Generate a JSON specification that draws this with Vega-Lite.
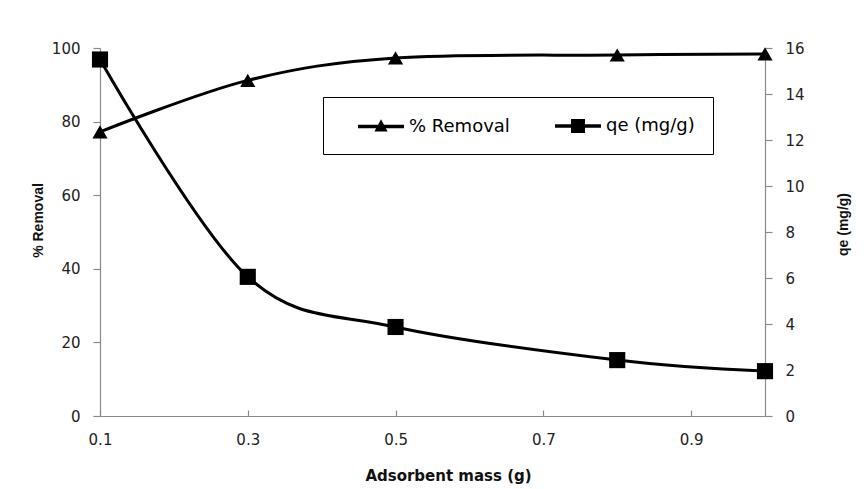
{
  "$schema": "https://vega.github.io/schema/vega-lite/v6.json",
  "width": 665,
  "height": 368,
  "autosize": {"type": "none"},
  "padding": {"left": 100, "top": 48, "right": 100, "bottom": 73},
  "background": "white",
  "config": {
    "view": {"stroke": null},
    "axis": {
      "grid": false,
      "domainColor": "#8a8a8a",
      "tickColor": "#8a8a8a",
      "domainWidth": 1.2,
      "tickWidth": 1.2,
      "tickSize": 7,
      "labelColor": "#222222",
      "labelFont": "DejaVu Sans",
      "labelFontSize": 15,
      "titleColor": "#111111",
      "titleFontWeight": "bold"
    }
  },
  "data": {
    "values": [
      {"mass": 0.1, "series": "% Removal", "value": 77.2},
      {"mass": 0.3, "series": "% Removal", "value": 91.2},
      {"mass": 0.5, "series": "% Removal", "value": 97.3},
      {"mass": 0.8, "series": "% Removal", "value": 98.1},
      {"mass": 1.0, "series": "% Removal", "value": 98.4},
      {"mass": 0.1, "series": "qe (mg/g)", "value": 15.5},
      {"mass": 0.3, "series": "qe (mg/g)", "value": 6.05},
      {"mass": 0.5, "series": "qe (mg/g)", "value": 3.87},
      {"mass": 0.8, "series": "qe (mg/g)", "value": 2.43},
      {"mass": 1.0, "series": "qe (mg/g)", "value": 1.95}
    ]
  },
  "encoding": {
    "x": {
      "field": "mass",
      "type": "quantitative",
      "scale": {"domain": [0.1, 1.0], "nice": false, "zero": false},
      "axis": {
        "orient": "bottom",
        "values": [0.1, 0.3, 0.5, 0.7, 0.9],
        "format": ".1f",
        "labelFlush": false,
        "tickSize": -6,
        "labelPadding": 22,
        "title": "Adsorbent mass (g)",
        "titleFont": "DejaVu Sans",
        "titleFontSize": 15,
        "titleX": 348,
        "titleY": 59,
        "titleAlign": "center",
        "titleBaseline": "middle"
      }
    }
  },
  "layer": [
    {
      "transform": [{"filter": "datum.series === '% Removal'"}],
      "encoding": {
        "y": {
          "field": "value",
          "type": "quantitative",
          "scale": {"domain": [0, 100], "nice": false},
          "axis": {
            "orient": "left",
            "values": [0, 20, 40, 60, 80, 100],
            "labelPadding": 13,
            "title": "% Removal",
            "titleFont": "Liberation Sans",
            "titleFontSize": 14,
            "titleAngle": -90,
            "titleX": -62,
            "titleY": 172,
            "titleAlign": "center",
            "titleBaseline": "middle"
          }
        }
      },
      "layer": [
        {"mark": {"type": "line", "interpolate": "cardinal", "color": "black", "strokeWidth": 3}},
        {"mark": {"type": "point", "shape": "triangle-up", "filled": true, "color": "black", "opacity": 1, "size": 230}}
      ]
    },
    {
      "transform": [{"filter": "datum.series === 'qe (mg/g)'"}],
      "encoding": {
        "y": {
          "field": "value",
          "type": "quantitative",
          "scale": {"domain": [0, 16], "nice": false},
          "axis": {
            "orient": "right",
            "values": [0, 2, 4, 6, 8, 10, 12, 14, 16],
            "labelPadding": 13,
            "title": "qe (mg/g)",
            "titleFont": "Liberation Sans",
            "titleFontSize": 14,
            "titleAngle": -90,
            "titleX": 78,
            "titleY": 176,
            "titleAlign": "center",
            "titleBaseline": "middle"
          }
        }
      },
      "layer": [
        {"mark": {"type": "line", "interpolate": "cardinal", "color": "black", "strokeWidth": 3}},
        {"mark": {"type": "point", "shape": "square", "filled": true, "color": "black", "opacity": 1, "size": 260}}
      ]
    },
    {
      "transform": [{"filter": "datum.value < -1000"}],
      "mark": {"type": "point", "filled": true, "fill": "black", "opacity": 1},
      "encoding": {
        "shape": {
          "field": "series",
          "type": "nominal",
          "scale": {
            "domain": ["% Removal", "qe (mg/g)"],
            "range": ["M-2.3,-0.18H2.3V0.18H-2.3ZM0,-0.72L0.66,0.5L-0.66,0.5Z", "M-2.3,-0.18H2.3V0.18H-2.3ZM-0.7,-0.7H0.7V0.7H-0.7Z"]
          },
          "legend": {
            "orient": "none",
            "legendX": 223,
            "legendY": 49,
            "direction": "horizontal",
            "title": null,
            "strokeColor": "black",
            "fillColor": "white",
            "padding": 18,
            "symbolSize": 400,
            "symbolOffset": 29,
            "labelOffset": 17,
            "columnPadding": 28,
            "labelFont": "DejaVu Sans",
            "labelFontSize": 18,
            "labelColor": "black",
            "symbolFillColor": "black",
            "symbolOpacity": 1
          }
        }
      }
    }
  ],
  "resolve": {"scale": {"y": "independent"}}
}
